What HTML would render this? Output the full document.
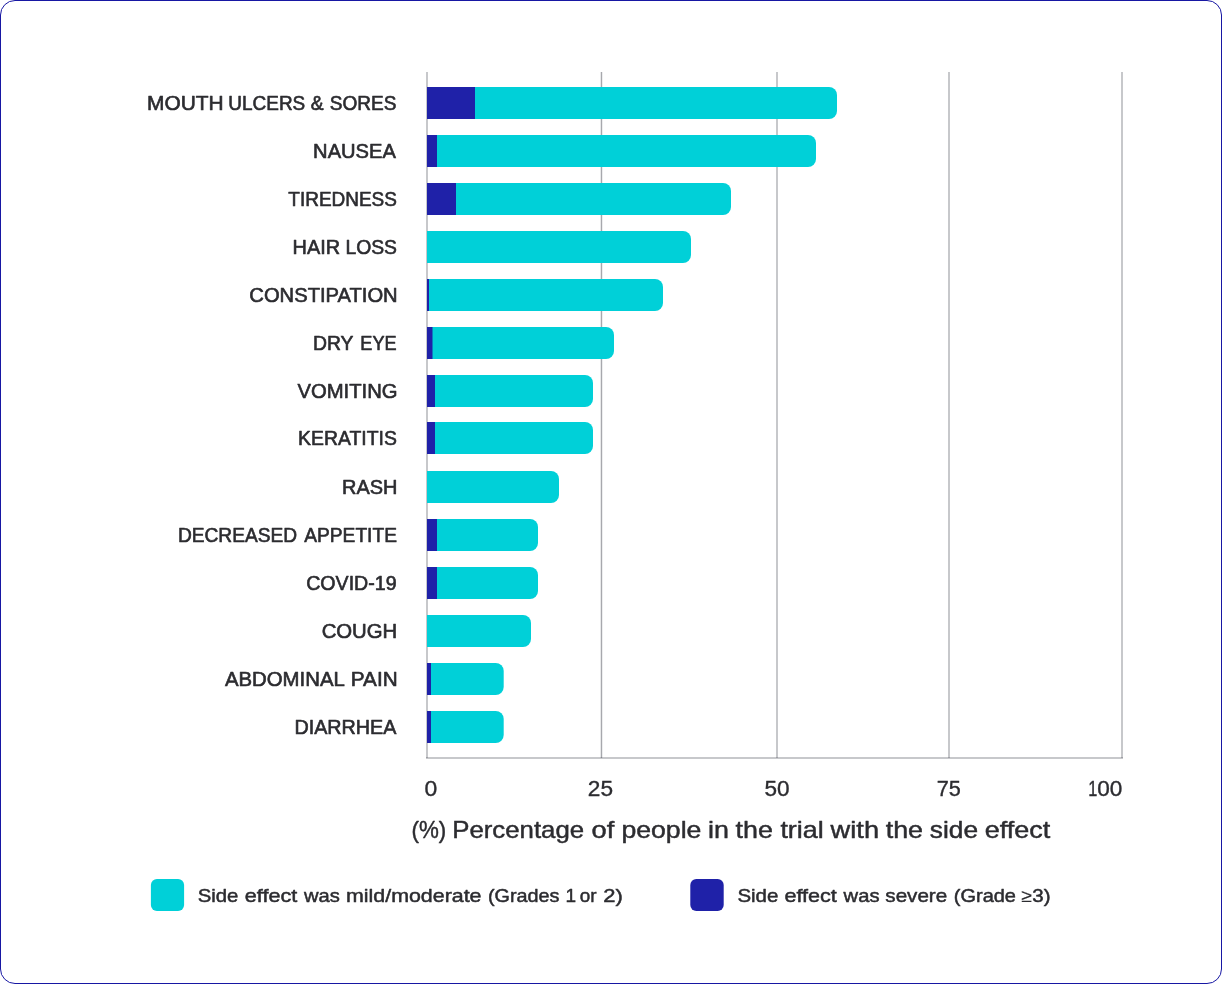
<!DOCTYPE html>
<html lang="en"><head><meta charset="utf-8"><title>Side effects chart</title>
<style>html,body{margin:0;padding:0;background:#fff}body{width:1222px;height:984px;overflow:hidden;position:relative}.frame{position:absolute;left:0;top:0;width:1220px;height:982px;border:1px solid #1717a3;border-radius:15px;background:#fff}svg{position:absolute;left:0;top:0;display:block}text{font-family:"Liberation Sans",sans-serif;fill:#2c2c30;stroke:#2c2c30;stroke-width:0.7px;stroke-linejoin:round;white-space:pre}</style></head><body>
<div class="frame"></div>
<svg width="1222" height="984" viewBox="0 0 1222 984">
<g fill="#2d303c" fill-opacity=".265">
<rect x="426" y="72" width="2" height="686"/>
<rect x="600.75" y="72" width="1.45" height="686" fill-opacity=".42"/>
<rect x="776" y="72" width="2" height="686"/>
<rect x="948" y="72" width="2" height="686"/>
<rect x="1121" y="72" width="2" height="686"/>
<path d="M426 757H1123V758.4Q1123 759 1122.4 759H426.6Q426 759 426 758.4Z"/>
</g>
<path fill="#00d0d8" d="M427 87H829A8 8 0 0 1 837 95V111A8 8 0 0 1 829 119H427Z"/>
<rect fill="#1f21a8" x="427" y="87" width="48" height="32"/>
<path fill="#00d0d8" d="M427 135H808A8 8 0 0 1 816 143V159A8 8 0 0 1 808 167H427Z"/>
<rect fill="#1f21a8" x="427" y="135" width="10" height="32"/>
<path fill="#00d0d8" d="M427 183H723A8 8 0 0 1 731 191V207A8 8 0 0 1 723 215H427Z"/>
<rect fill="#1f21a8" x="427" y="183" width="29" height="32"/>
<path fill="#00d0d8" d="M427 231H683A8 8 0 0 1 691 239V255A8 8 0 0 1 683 263H427Z"/>
<path fill="#00d0d8" d="M427 279H655A8 8 0 0 1 663 287V303A8 8 0 0 1 655 311H427Z"/>
<rect fill="#1f21a8" x="427" y="279" width="2" height="32"/>
<path fill="#00d0d8" d="M427 327H606A8 8 0 0 1 614 335V351A8 8 0 0 1 606 359H427Z"/>
<rect fill="#1f21a8" x="427" y="327" width="5.5" height="32"/>
<path fill="#00d0d8" d="M427 375H585A8 8 0 0 1 593 383V399A8 8 0 0 1 585 407H427Z"/>
<rect fill="#1f21a8" x="427" y="375" width="8" height="32"/>
<path fill="#00d0d8" d="M427 422H585A8 8 0 0 1 593 430V446A8 8 0 0 1 585 454H427Z"/>
<rect fill="#1f21a8" x="427" y="422" width="8" height="32"/>
<path fill="#00d0d8" d="M427 471H551A8 8 0 0 1 559 479V495A8 8 0 0 1 551 503H427Z"/>
<path fill="#00d0d8" d="M427 519H530A8 8 0 0 1 538 527V543A8 8 0 0 1 530 551H427Z"/>
<rect fill="#1f21a8" x="427" y="519" width="10" height="32"/>
<path fill="#00d0d8" d="M427 567H530A8 8 0 0 1 538 575V591A8 8 0 0 1 530 599H427Z"/>
<rect fill="#1f21a8" x="427" y="567" width="10" height="32"/>
<path fill="#00d0d8" d="M427 615H523A8 8 0 0 1 531 623V639A8 8 0 0 1 523 647H427Z"/>
<path fill="#00d0d8" d="M427 663H495.7A8 8 0 0 1 503.7 671V687A8 8 0 0 1 495.7 695H427Z"/>
<rect fill="#1f21a8" x="427" y="663" width="4" height="32"/>
<path fill="#00d0d8" d="M427 711H495.7A8 8 0 0 1 503.7 719V735A8 8 0 0 1 495.7 743H427Z"/>
<rect fill="#1f21a8" x="427" y="711" width="4" height="32"/>
<text y="110" font-size="19.7" style="stroke-width:0.62px"><tspan x="147.09" textLength="76.64" lengthAdjust="spacingAndGlyphs">MOUTH</tspan> <tspan x="228.36" textLength="76.89" lengthAdjust="spacingAndGlyphs">ULCERS</tspan> <tspan x="310.86" textLength="12.85" lengthAdjust="spacingAndGlyphs">&amp;</tspan> <tspan x="329.86" textLength="66.68" lengthAdjust="spacingAndGlyphs">SORES</tspan></text>
<text y="158" font-size="19.7" style="stroke-width:0.62px"><tspan x="313.12" textLength="82.79" lengthAdjust="spacingAndGlyphs">NAUSEA</tspan></text>
<text y="206" font-size="19.7" style="stroke-width:0.62px"><tspan x="288.35" textLength="108.59" lengthAdjust="spacingAndGlyphs">TIREDNESS</tspan></text>
<text y="254" font-size="19.7" style="stroke-width:0.62px"><tspan x="292.60" textLength="47.54" lengthAdjust="spacingAndGlyphs">HAIR</tspan> <tspan x="345.40" textLength="51.60" lengthAdjust="spacingAndGlyphs">LOSS</tspan></text>
<text y="302" font-size="19.7" style="stroke-width:0.62px"><tspan x="249.35" textLength="148.35" lengthAdjust="spacingAndGlyphs">CONSTIPATION</tspan></text>
<text y="350" font-size="19.7" style="stroke-width:0.62px"><tspan x="312.92" textLength="40.19" lengthAdjust="spacingAndGlyphs">DRY</tspan> <tspan x="360.36" textLength="36.34" lengthAdjust="spacingAndGlyphs">EYE</tspan></text>
<text y="398" font-size="19.7" style="stroke-width:0.62px"><tspan x="297.40" textLength="100.24" lengthAdjust="spacingAndGlyphs">VOMITING</tspan></text>
<text y="445" font-size="19.7" style="stroke-width:0.62px"><tspan x="298.10" textLength="98.86" lengthAdjust="spacingAndGlyphs">KERATITIS</tspan></text>
<text y="494" font-size="19.7" style="stroke-width:0.62px"><tspan x="342.05" textLength="55.39" lengthAdjust="spacingAndGlyphs">RASH</tspan></text>
<text y="542" font-size="19.7" style="stroke-width:0.62px"><tspan x="177.90" textLength="119.16" lengthAdjust="spacingAndGlyphs">DECREASED</tspan> <tspan x="304.24" textLength="92.70" lengthAdjust="spacingAndGlyphs">APPETITE</tspan></text>
<text y="590" font-size="19.7" style="stroke-width:0.62px"><tspan x="306.16" textLength="90.49" lengthAdjust="spacingAndGlyphs">COVID-19</tspan></text>
<text y="638" font-size="19.7" style="stroke-width:0.62px"><tspan x="321.65" textLength="75.61" lengthAdjust="spacingAndGlyphs">COUGH</tspan></text>
<text y="686" font-size="19.7" style="stroke-width:0.62px"><tspan x="224.94" textLength="119.12" lengthAdjust="spacingAndGlyphs">ABDOMINAL</tspan> <tspan x="350.82" textLength="46.77" lengthAdjust="spacingAndGlyphs">PAIN</tspan></text>
<text y="734" font-size="19.7" style="stroke-width:0.62px"><tspan x="294.40" textLength="102.01" lengthAdjust="spacingAndGlyphs">DIARRHEA</tspan></text>
<text y="796" font-size="21.4" style="stroke-width:0.35px"><tspan x="424.41" textLength="12.75" lengthAdjust="spacingAndGlyphs">0</tspan></text>
<text y="796" font-size="21.4" style="stroke-width:0.35px"><tspan x="587.80" textLength="25.20" lengthAdjust="spacingAndGlyphs">25</tspan></text>
<text y="796" font-size="21.4" style="stroke-width:0.35px"><tspan x="764.53" textLength="25.07" lengthAdjust="spacingAndGlyphs">50</tspan></text>
<text y="796" font-size="21.4" style="stroke-width:0.35px"><tspan x="936.67" textLength="24.11" lengthAdjust="spacingAndGlyphs">75</tspan></text>
<text y="796" font-size="21.4" style="stroke-width:0.35px"><tspan x="1088.13" textLength="9.09" lengthAdjust="spacingAndGlyphs">1</tspan><tspan x="1097.29" textLength="25.11" lengthAdjust="spacingAndGlyphs">00</tspan></text>
<text y="838" font-size="23.4" style="stroke-width:0.45px"><tspan x="411.46" textLength="34.73" lengthAdjust="spacingAndGlyphs">(%)</tspan> <tspan x="452.24" textLength="131.90" lengthAdjust="spacingAndGlyphs">Percentage</tspan> <tspan x="591.60" textLength="22.72" lengthAdjust="spacingAndGlyphs">of</tspan> <tspan x="621.44" textLength="79.96" lengthAdjust="spacingAndGlyphs">people</tspan> <tspan x="708.11" textLength="20.93" lengthAdjust="spacingAndGlyphs">in</tspan> <tspan x="735.59" textLength="37.38" lengthAdjust="spacingAndGlyphs">the</tspan> <tspan x="780.40" textLength="43.30" lengthAdjust="spacingAndGlyphs">trial</tspan> <tspan x="830.57" textLength="48.49" lengthAdjust="spacingAndGlyphs">with</tspan> <tspan x="885.70" textLength="37.41" lengthAdjust="spacingAndGlyphs">the</tspan> <tspan x="929.80" textLength="48.25" lengthAdjust="spacingAndGlyphs">side</tspan> <tspan x="984.77" textLength="65.50" lengthAdjust="spacingAndGlyphs">effect</tspan></text>
<text y="902" font-size="19" style="stroke-width:0.5px"><tspan x="197.76" textLength="40.65" lengthAdjust="spacingAndGlyphs">Side</tspan> <tspan x="244.80" textLength="52.47" lengthAdjust="spacingAndGlyphs">effect</tspan> <tspan x="304.01" textLength="35.88" lengthAdjust="spacingAndGlyphs">was</tspan> <tspan x="345.99" textLength="135.52" lengthAdjust="spacingAndGlyphs">mild/moderate</tspan> <tspan x="487.95" textLength="71.60" lengthAdjust="spacingAndGlyphs">(Grades</tspan> <tspan x="565.60">1</tspan> <tspan x="579.72" textLength="16.79" lengthAdjust="spacingAndGlyphs">or</tspan> <tspan x="603.35" textLength="19.53" lengthAdjust="spacingAndGlyphs">2)</tspan></text>
<text y="902" font-size="19" style="stroke-width:0.5px"><tspan x="737.41" textLength="41.01" lengthAdjust="spacingAndGlyphs">Side</tspan> <tspan x="784.41" textLength="52.45" lengthAdjust="spacingAndGlyphs">effect</tspan> <tspan x="843.62" textLength="35.88" lengthAdjust="spacingAndGlyphs">was</tspan> <tspan x="885.34" textLength="61.86" lengthAdjust="spacingAndGlyphs">severe</tspan> <tspan x="953.75" textLength="62.25" lengthAdjust="spacingAndGlyphs">(Grade</tspan> <tspan x="1021.59" textLength="28.90" lengthAdjust="spacingAndGlyphs"><tspan font-size="18" style="stroke-width:.15px">≥</tspan>3)</tspan></text>
<rect x="150.9" y="878.9" width="33.2" height="32" rx="6" fill="#00d0d8"/>
<rect x="690.3" y="879" width="33.4" height="32" rx="6" fill="#1f21a8"/>
</svg></body></html>
